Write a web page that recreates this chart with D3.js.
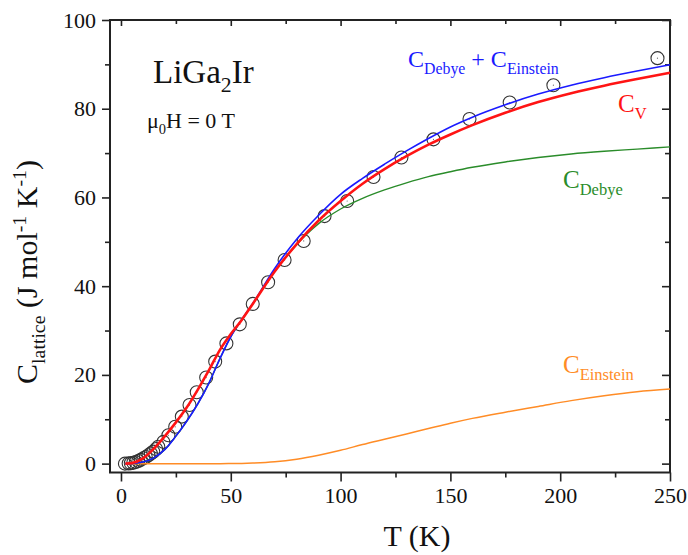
<!DOCTYPE html>
<html>
<head>
<meta charset="utf-8">
<script src="https://cdn.jsdelivr.net/npm/d3@7"></script>
<style>
  body { margin: 0; background: #fff; }
  svg text { font-family: "Liberation Serif", "DejaVu Serif", serif !important; }
</style>
</head>
<body>
<div class="chart"></div>
<script>
// measured points (circles)
const dataT = [1.8, 3.5, 4.5, 5.6, 6.7, 7.9, 9.0, 10.2, 11.3, 12.5, 13.6, 14.7, 16.0, 17.0, 19.3, 21.6, 24.7, 27.7, 31.2, 34.5,
               38.8, 42.9, 48.0, 54.1, 60.0, 67.0, 74.5, 83.2, 92.7, 103.0, 115.0, 127.7, 142.3, 158.7, 177.0, 196.9, 244.3];
const dataC = [0, 0.05, 0.1, 0.2, 0.35, 0.6, 0.85, 1.2, 1.5, 1.9, 2.3, 2.7, 3.3, 3.8, 4.9, 6.4, 8.3, 10.6, 13.2, 16.1,
               19.4, 23.0, 27.1, 31.4, 36.0, 40.9, 45.9, 50.2, 55.8, 59.2, 64.6, 69.0, 73.1, 77.7, 81.4, 85.3, 91.4];

// model curves
const curveT   = [2, 5, 10, 15, 20, 25, 30, 35, 40, 45, 50, 55, 60, 70, 80, 90, 100, 110, 120, 130, 140, 150, 160, 175, 190, 205, 220, 235, 250];
const cv       = [0, 0.15, 1.2, 3.4, 6.2, 9.3, 12.7, 16.7, 21.0, 25.6, 29.2, 32.4, 36.0, 43.3, 49.5, 54.8, 59.2, 63.1, 66.4, 69.3, 71.9, 74.2, 76.3, 79.1, 81.5, 83.5, 85.2, 86.7, 88.1];
const debyeEin = [0, 0.05, 0.35, 1.3, 3.2, 6.2, 9.6, 13.5, 18.1, 23.6, 28.6, 32.5, 36.1, 44.0, 50.6, 56.0, 60.7, 64.3, 67.5, 70.5, 73.3, 75.9, 78.1, 80.9, 83.3, 85.3, 87.0, 88.5, 89.9];
const debye    = [0, 0.05, 0.35, 1.3, 3.2, 6.2, 9.6, 13.5, 18.1, 23.6, 28.6, 32.4, 36.0, 43.4, 49.4, 54.1, 57.4, 59.8, 61.7, 63.3, 64.7, 65.8, 66.8, 68.0, 69.0, 69.8, 70.4, 70.9, 71.4];
const einstein = [0, 0, 0, 0, 0, 0, 0, 0, 0, 0, 0.02, 0.05, 0.12, 0.4, 1.0, 1.9, 3.0, 4.3, 5.5, 6.7, 7.9, 9.1, 10.2, 11.6, 12.9, 14.2, 15.3, 16.2, 16.8];

const xMajor = [0, 50, 100, 150, 200, 250];
const xMinor = [25, 75, 125, 175, 225];
const yMajor = [0, 20, 40, 60, 80, 100];
const yMinor = [10, 30, 50, 70, 90];

const width = 688, height = 555;
const margin = {top: 20, right: 18, bottom: 82.5, left: 110};
const serif = '"Liberation Serif", "DejaVu Serif", serif';

const x = d3.scaleLinear().domain([-5, 250]).range([margin.left, width - margin.right]);
const y = d3.scaleLinear().domain([-2, 100]).range([height - margin.bottom, margin.top]);

const svg = d3.select('.chart').append('svg')
  .attr('width', width).attr('height', height)
  .attr('font-family', serif);

const axisColor = '#222';

function styleAxis(g) {
  g.attr('font-family', serif);
  g.select('.domain').remove();
  g.selectAll('.tick line').attr('stroke', axisColor).attr('stroke-width', 1.6);
  g.selectAll('.tick text').attr('fill', '#111').attr('font-size', '22px')
    .attr('font-family', serif);
}

// bottom
svg.append('g').attr('transform', `translate(0,${y(-2)})`)
  .call(d3.axisBottom(x).tickValues(xMajor).tickSize(9).tickPadding(6).tickFormat(d3.format('d')))
  .call(styleAxis);
svg.append('g').attr('transform', `translate(0,${y(-2)})`)
  .call(d3.axisBottom(x).tickValues(xMinor).tickSize(5).tickFormat(''))
  .call(styleAxis);
// top (inward)
svg.append('g').attr('transform', `translate(0,${y(100)})`)
  .call(d3.axisTop(x).tickValues(xMajor).tickSize(-6).tickFormat(''))
  .call(styleAxis);
svg.append('g').attr('transform', `translate(0,${y(100)})`)
  .call(d3.axisTop(x).tickValues(xMinor).tickSize(-4).tickFormat(''))
  .call(styleAxis);
// left
svg.append('g').attr('transform', `translate(${x(-5)},0)`)
  .call(d3.axisLeft(y).tickValues(yMajor).tickSize(8).tickPadding(6).tickFormat(d3.format('d')))
  .call(styleAxis);
svg.append('g').attr('transform', `translate(${x(-5)},0)`)
  .call(d3.axisLeft(y).tickValues(yMinor).tickSize(5).tickFormat(''))
  .call(styleAxis);
// right (inward)
svg.append('g').attr('transform', `translate(${x(250)},0)`)
  .call(d3.axisRight(y).tickValues(yMajor).tickSize(-8).tickFormat(''))
  .call(styleAxis);
svg.append('g').attr('transform', `translate(${x(250)},0)`)
  .call(d3.axisRight(y).tickValues(yMinor).tickSize(-5).tickFormat(''))
  .call(styleAxis);

// frame
svg.append('rect')
  .attr('x', x(-5)).attr('y', y(100))
  .attr('width', x(250) - x(-5)).attr('height', y(-2) - y(100))
  .attr('fill', 'none').attr('stroke', axisColor).attr('stroke-width', 2);

// data circles
const pts = dataT.map((t, i) => ({t, c: dataC[i]}));
svg.append('g').selectAll('circle')
  .data(pts).join('circle')
  .attr('cx', d => x(d.t)).attr('cy', d => y(d.c)).attr('r', 6.5)
  .attr('fill', 'none').attr('stroke', '#333').attr('stroke-width', 1.1);
svg.append('g').selectAll('circle')
  .data(pts).join('circle')
  .attr('cx', d => x(d.t)).attr('cy', d => y(d.c)).attr('r', 0.6)
  .attr('fill', '#666');

// curves
const line = d3.line().x(d => x(d[0])).y(d => y(d[1])).curve(d3.curveMonotoneX);
const series = [
  {vals: einstein, color: '#ff8c26', w: 1.5},
  {vals: debye,    color: '#2a8c2a', w: 1.4},
  {vals: debyeEin, color: '#1a1aff', w: 1.6},
  {vals: cv,       color: '#ff1414', w: 2.6}
];
svg.append('g').selectAll('path')
  .data(series).join('path')
  .attr('d', s => line(curveT.map((t, i) => [t, s.vals[i]])))
  .attr('fill', 'none')
  .attr('stroke', s => s.color)
  .attr('stroke-width', s => s.w);

// labels with sub/superscripts
function richText(xp, yp, parts, size, color, transform) {
  const t = svg.append('text').attr('x', xp).attr('y', yp)
    .attr('font-family', serif)
    .attr('font-size', size + 'px').attr('fill', color);
  if (transform) t.attr('transform', transform);
  let shift = 0;
  parts.forEach(p => {
    const target = p.sub ? size * 0.28 : p.sup ? -size * 0.38 : 0;
    t.append('tspan')
      .attr('dy', target - shift)
      .attr('font-size', (p.sub || p.sup) ? size * 0.66 + 'px' : size + 'px')
      .text(p.s);
    shift = target;
  });
  return t;
}

richText(153, 83, [{s: 'LiGa'}, {s: '2', sub: true}, {s: 'Ir'}], 33, '#111');
richText(147, 128, [{s: 'μ'}, {s: '0', sub: true}, {s: 'H = 0 T'}], 22, '#111');

richText(408, 67, [{s: 'C'}, {s: 'Debye', sub: true}, {s: ' + C'}, {s: 'Einstein', sub: true}], 24, '#1a1aff');
richText(618, 112, [{s: 'C'}, {s: 'V', sub: true}], 25, '#ff1414');
richText(563, 188, [{s: 'C'}, {s: 'Debye', sub: true}], 25, '#2a8c2a');
richText(563, 373, [{s: 'C'}, {s: 'Einstein', sub: true}], 25, '#ff8c26');

// axis titles
svg.append('text').attr('x', 417).attr('y', 546)
  .attr('text-anchor', 'middle').attr('font-size', '30px').attr('fill', '#111')
  .attr('font-family', serif)
  .text('T (K)');

const yl = richText(0, 0, [{s: 'C'}, {s: 'lattice', sub: true}, {s: ' (J mol'}, {s: '-1', sup: true},
  {s: ' K'}, {s: '-1', sup: true}, {s: ')'}], 30, '#111', 'translate(37,272) rotate(-90)');
yl.attr('text-anchor', 'middle');
</script>
</body>
</html>
